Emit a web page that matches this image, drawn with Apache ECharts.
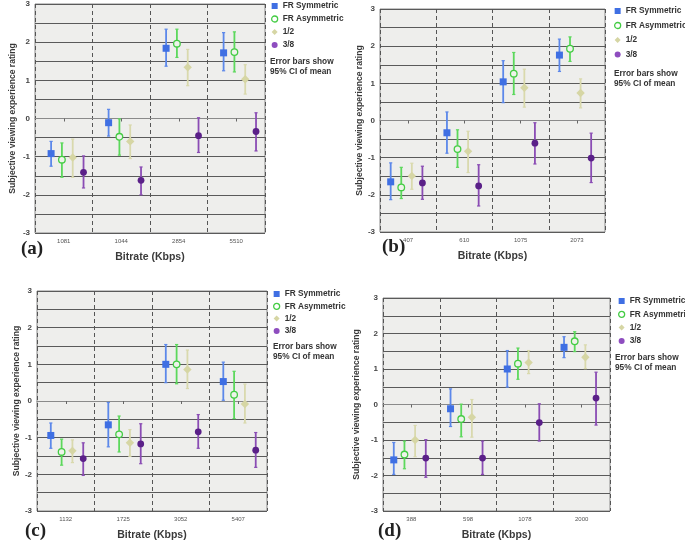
<!DOCTYPE html>
<html>
<head>
<meta charset="utf-8">
<script src="https://cdn.jsdelivr.net/npm/echarts@6/dist/echarts.min.js"></script>
<style>html,body{margin:0;padding:0;background:#fff}#c{width:685px;height:542px}</style>
</head>
<body>
<div id="c"></div>
<script>
// ---- data: categories (bitrate, Kbps) ----
const catsA = ['1081', '1044', '2854', '5510'];
const catsB = ['407', '610', '1075', '2073'];
const catsC = ['1132', '1725', '3052', '5407'];
const catsD = ['388', '598', '1078', '2000'];
const seriesNames = ['FR Symmetric', 'FR Asymmetric', '1/2', '3/8'];
const yTicks = [-3, -2, -1, 0, 1, 2, 3];

// ---- values per series: [mean, lower CI, upper CI] ----
const aSym  = [[-0.92, -1.25, -0.60], [-0.11, -0.46, 0.24], [1.84, 1.37, 2.34], [1.72, 1.25, 2.25]];
const aAsym = [[-1.08, -1.54, -0.64], [-0.48, -0.96, -0.01], [1.96, 1.60, 2.34], [1.74, 1.22, 2.27]];
const aHalf = [[-1.02, -1.54, -0.54], [-0.60, -1.05, -0.17], [1.34, 0.86, 1.81], [1.03, 0.64, 1.41]];
const aEigh = [[-1.41, -1.82, -0.98], [-1.62, -2.00, -1.27], [-0.45, -0.89, 0.02], [-0.34, -0.85, 0.15]];

const bSym  = [[-1.65, -2.13, -1.14], [-0.33, -0.88, 0.23], [1.04, 0.48, 1.61], [1.76, 1.32, 2.19]];
const bAsym = [[-1.80, -2.10, -1.26], [-0.77, -1.26, -0.25], [1.26, 0.70, 1.83], [1.93, 1.59, 2.25]];
const bHalf = [[-1.49, -1.85, -1.15], [-0.83, -1.40, -0.29], [0.88, 0.36, 1.38], [0.74, 0.34, 1.12]];
const bEigh = [[-1.68, -2.12, -1.23], [-1.76, -2.30, -1.19], [-0.61, -1.17, -0.06], [-1.01, -1.67, -0.34]];

const cSym  = [[-0.94, -1.29, -0.60], [-0.65, -1.25, -0.04], [1.00, 0.50, 1.54], [0.53, 0.02, 1.06]];
const cAsym = [[-1.39, -1.75, -1.04], [-0.91, -1.39, -0.41], [1.00, 0.47, 1.54], [0.17, -0.48, 0.81]];
const cHalf = [[-1.36, -1.68, -1.06], [-1.14, -1.51, -0.78], [0.86, 0.34, 1.39], [-0.08, -0.60, 0.46]];
const cEigh = [[-1.57, -2.03, -1.14], [-1.17, -1.71, -0.62], [-0.84, -1.29, -0.37], [-1.34, -1.81, -0.86]];

const dSym  = [[-1.56, -1.97, -1.07], [-0.12, -0.62, 0.44], [1.00, 0.49, 1.52], [1.61, 1.32, 1.91]];
const dAsym = [[-1.41, -1.81, -1.03], [-0.41, -0.91, 0.01], [1.15, 0.71, 1.59], [1.78, 1.49, 2.05]];
const dHalf = [[-1.00, -1.47, -0.59], [-0.36, -0.92, 0.14], [1.18, 0.87, 1.52], [1.33, 1.01, 1.68]];
const dEigh = [[-1.51, -2.05, -0.99], [-1.51, -1.97, -1.03], [-0.51, -1.03, 0.02], [0.18, -0.58, 0.91]];

// ---- layout & style ----
const panels = [
  {cats: catsA, data: [aSym, aAsym, aHalf, aEigh], grid: {left: 35, top: 4, width: 230, height: 229}, off0: -0.22, yGap: 18,
   tag: '(a)', tagPos: [21, 240], leg: [271, 1, 3], note: [270, 56]},
  {cats: catsB, data: [bSym, bAsym, bHalf, bEigh], grid: {left: 380, top: 9, width: 225, height: 223}, off0: -0.31, yGap: 14,
   tag: '(b)', tagPos: [382, 238], leg: [614, 6, 4.5], note: [614, 68]},
  {cats: catsC, data: [cSym, cAsym, cHalf, cEigh], grid: {left: 37, top: 291, width: 230, height: 226}, off0: -0.26, yGap: 16,
   tag: '(c)', tagPos: [25, 522], leg: [273, 289, 2.3], note: [273, 341]},
  {cats: catsD, data: [dSym, dAsym, dHalf, dEigh], grid: {left: 383, top: 298, width: 227, height: 216}, off0: -0.31, yGap: 22,
   tag: '(d)', tagPos: [378, 522], leg: [618, 296, 3.3], note: [615, 352]}
];
const step = 0.188;
const markColor = ['#3f6fe3', '#44cc44', '#d6d6a4', '#5a2088'];
const barColor  = ['#5c88ea', '#5cd85c', '#d9d9ad', '#8a4cb4'];
const legColor  = ['#3f6fe3', '#44cc44', '#d6d6a4', '#8e4dbf'];

function renderer(k, off) {
  return function (params, api) {
    const ci = api.value(0);
    const pm = api.coord([ci, api.value(1)]);
    const bw = api.size([1, 0])[0];
    const x = pm[0] + off * bw;
    const yLo = api.coord([ci, api.value(2)])[1];
    const yHi = api.coord([ci, api.value(3)])[1];
    const bs = {stroke: barColor[k], lineWidth: 1.8};
    const children = [
      {type: 'line', shape: {x1: x, y1: yLo, x2: x, y2: yHi}, style: bs},
      {type: 'line', shape: {x1: x - 1.6, y1: yLo, x2: x + 1.6, y2: yLo}, style: {stroke: barColor[k], lineWidth: 1.2}},
      {type: 'line', shape: {x1: x - 1.6, y1: yHi, x2: x + 1.6, y2: yHi}, style: {stroke: barColor[k], lineWidth: 1.2}}
    ];
    const y = pm[1];
    if (k === 0) children.push({type: 'rect', shape: {x: x - 3.5, y: y - 3.5, width: 7, height: 7}, style: {fill: markColor[0]}});
    else if (k === 1) children.push({type: 'circle', shape: {cx: x, cy: y, r: 3.3}, style: {fill: '#eef3ea', stroke: markColor[1], lineWidth: 1.3}});
    else if (k === 2) children.push({type: 'polygon', shape: {points: [[x, y - 4.2], [x + 4.2, y], [x, y + 4.2], [x - 4.2, y]]}, style: {fill: markColor[2]}});
    else children.push({type: 'circle', shape: {cx: x, cy: y, r: 3.4}, style: {fill: markColor[3]}});
    return {type: 'group', children: children};
  };
}

const grids = [], xAxes = [], yAxes = [], series = [], legends = [], graphics = [];
panels.forEach((p, pi) => {
  grids.push(Object.assign({show: true, backgroundColor: '#eeeeec', borderColor: '#8a8a8a', borderWidth: 1}, p.grid));
  xAxes.push({
    type: 'category', gridIndex: pi, data: p.cats,
    name: 'Bitrate (Kbps)', nameLocation: 'middle', nameGap: 19,
    nameTextStyle: {fontFamily: 'Liberation Sans', fontWeight: 'bold', fontSize: 10.5, color: '#3a3a3a'},
    axisLine: {show: true, lineStyle: {color: '#8a8a8a'}},
    axisTick: {show: true, alignWithLabel: true, length: 3, lineStyle: {color: '#666'}},
    axisLabel: {fontFamily: 'Liberation Sans', fontSize: 6, color: '#555', margin: 5},
    splitLine: {show: true, lineStyle: {type: [4, 3], color: '#555', width: 1}}
  });
  yAxes.push({
    type: 'value', gridIndex: pi, min: -3, max: 3, interval: 0.5,
    name: 'Subjective viewing experience rating', nameLocation: 'middle', nameGap: p.yGap,
    nameTextStyle: {fontFamily: 'Liberation Sans', fontWeight: 'bold', fontSize: 8.6, color: '#3a3a3a'},
    axisLine: {show: false}, axisTick: {show: false},
    axisLabel: {fontFamily: 'Liberation Sans', fontWeight: 'bold', fontSize: 8, color: '#444', margin: 5,
      formatter: v => (yTicks.indexOf(v) >= 0 ? String(v) : '')},
    splitLine: {show: true, lineStyle: {color: '#5a5a5a', width: 1}}
  });
  p.data.forEach((arr, k) => {
    series.push({
      type: 'custom', name: seriesNames[k], xAxisIndex: pi, yAxisIndex: pi,
      itemStyle: {color: legColor[k]},
      renderItem: renderer(k, p.off0 + k * step),
      encode: {x: 0, y: [1, 2, 3]},
      data: arr.map((d, i) => [i, d[0], d[1], d[2]]),
      z: 3
    });
  });
  legends.push({
    orient: 'vertical', left: p.leg[0], top: p.leg[1], padding: 0, itemWidth: 6, itemHeight: 6, itemGap: p.leg[2],
    selectedMode: false,
    textStyle: {fontFamily: 'Liberation Sans', fontWeight: 'bold', fontSize: 8.3, color: '#333', lineHeight: 10},
    data: [
      {name: seriesNames[0], icon: 'rect', itemStyle: {color: legColor[0]}},
      {name: seriesNames[1], icon: 'circle', itemStyle: {color: '#ffffff', borderColor: legColor[1], borderWidth: 1.3}},
      {name: seriesNames[2], icon: 'diamond', itemStyle: {color: legColor[2]}},
      {name: seriesNames[3], icon: 'circle', itemStyle: {color: legColor[3]}}
    ]
  });
  graphics.push({type: 'text', left: p.note[0], top: p.note[1],
    style: {text: 'Error bars show\n95% CI of mean', font: 'bold 8.3px "Liberation Sans"', fill: '#333', lineHeight: 10.5}});
  graphics.push({type: 'text', left: p.tagPos[0], top: p.tagPos[1],
    style: {text: p.tag, font: 'bold 19px "Liberation Serif"', fill: '#222'}});
});

const chart = echarts.init(document.getElementById('c'), null, {renderer: 'canvas'});
chart.setOption({
  animation: false,
  backgroundColor: '#ffffff',
  grid: grids, xAxis: xAxes, yAxis: yAxes, series: series, legend: legends, graphic: graphics
});
</script>
</body>
</html>
